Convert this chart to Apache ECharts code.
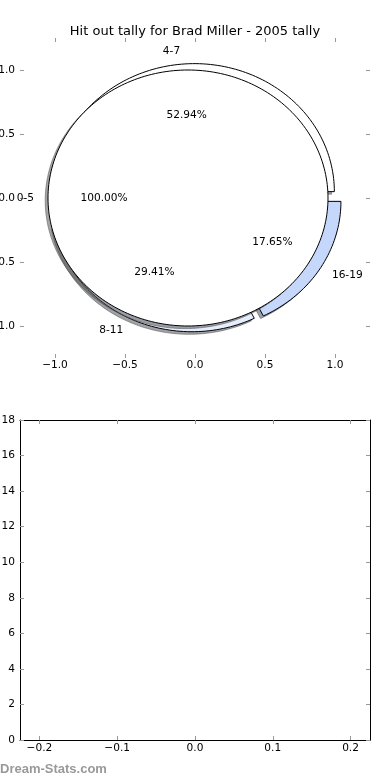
<!DOCTYPE html>
<html>
<head>
<meta charset="utf-8">
<script src="https://cdn.jsdelivr.net/npm/echarts@6/dist/echarts.min.js"></script>
<style>
html,body{margin:0;padding:0;background:#fff;}
#chart{width:390px;height:780px;}
</style>
</head>
<body>
<div id="chart"></div>
<script>
// ---- data ----
const chartTitle = 'Hit out tally for Brad Miller - 2005 tally';
const outerPieCategories = ['0-5'];
const outerPieValues = [1];
const innerPieCategories = ['4-7', '8-11', '16-19'];
const innerPieValues = [9, 5, 3];
const pieTickValues = [-1, -0.5, 0, 0.5, 1];
const pieTickLabels = ['\u22121.0', '\u22120.5', '0.0', '0.5', '1.0'];
const barXTickValues = [-0.2, -0.1, 0, 0.1, 0.2];
const barXTickLabels = ['\u22120.2', '\u22120.1', '0.0', '0.1', '0.2'];
const barYTickValues = [0, 2, 4, 6, 8, 10, 12, 14, 16, 18];
const barYTickLabels = ['0', '2', '4', '6', '8', '10', '12', '14', '16', '18'];
const watermark = 'Dream-Stats.com';

// ---- style ----
const outerPieColors = ['#ffffff'];
const innerPieColors = ['#ffffff', '#e6edfd', '#c5d8fb'];
const EXPLODE = 0.05;
const SHADOW_DX = -0.02, SHADOW_DY = -0.02;
const FONT = 'DejaVu Sans';
const FS = 10.6;
const TICK_COLOR = '#999';

function buildSlices(cats, vals, colors) {
  const total = vals.reduce((a, b) => a + b, 0);
  let t = 0;
  return cats.map((name, i) => {
    const t1 = t;
    t += vals[i] / total * 360;
    const t2 = t;
    const mid = (t1 + t2) / 2 * Math.PI / 180;
    return {
      name, value: vals[i], pct: (vals[i] / total * 100).toFixed(2) + '%',
      t1, t2, mid, color: colors[i],
      cx: EXPLODE * Math.cos(mid), cy: EXPLODE * Math.sin(mid)
    };
  });
}
const innerSlices = buildSlices(innerPieCategories, innerPieValues, innerPieColors);
const outerSlices = buildSlices(outerPieCategories, outerPieValues, outerPieColors);
const allSlices = innerSlices.concat(outerSlices);

function wedgePoints(s, dx, dy) {
  const cx = s.cx + dx, cy = s.cy + dy;
  const full = (s.t2 - s.t1) >= 359.999;
  const n = Math.max(8, Math.ceil((s.t2 - s.t1) / 1.5));
  const pts = [];
  if (!full) pts.push([cx, cy]);
  for (let k = 0; k <= n; k++) {
    const a = (s.t1 + (s.t2 - s.t1) * k / n) * Math.PI / 180;
    pts.push([cx + Math.cos(a), cy + Math.sin(a)]);
  }
  return pts;
}
function shadowColor(hex) {
  const r = parseInt(hex.slice(1, 3), 16), g = parseInt(hex.slice(3, 5), 16), b = parseInt(hex.slice(5, 7), 16);
  return 'rgba(' + Math.round(r * 0.3) + ',' + Math.round(g * 0.3) + ',' + Math.round(b * 0.3) + ',0.5)';
}
function wedgeRenderer(slices) {
  return function (params, api) {
    const s = slices[params.dataIndex];
    const pts = wedgePoints(s, 0, 0).map(p => api.coord(p));
    const sh = wedgePoints(s, SHADOW_DX, SHADOW_DY).map(p => api.coord(p));
    const sc = shadowColor(s.color);
    return {
      type: 'group',
      children: [
        { type: 'polygon', z2: params.dataIndex * 2, shape: { points: sh }, style: { fill: sc, stroke: sc, lineWidth: 1 } },
        { type: 'polygon', z2: params.dataIndex * 2 + 1, shape: { points: pts }, style: { fill: s.color, stroke: '#000', lineWidth: 1 } }
      ]
    };
  };
}
function labelRenderer(params, api) {
  const s = allSlices[params.dataIndex];
  const c = Math.cos(s.mid), sn = Math.sin(s.mid);
  const lx = s.cx + 1.1 * c, ly = s.cy + 1.1 * sn;
  const px = s.cx + 0.6 * c, py = s.cy + 0.6 * sn;
  const lp = api.coord([lx, ly]);
  const pp = api.coord([px, py]);
  return {
    type: 'group',
    children: [
      { type: 'text', x: lp[0], y: lp[1], style: { text: s.name, fill: '#000', fontSize: FS, fontFamily: FONT, align: lx > 0 ? 'left' : 'right', verticalAlign: 'middle' } },
      { type: 'text', x: pp[0], y: pp[1], style: { text: s.pct, fill: '#000', fontSize: FS, fontFamily: FONT, align: 'center', verticalAlign: 'middle' } }
    ]
  };
}

function labelFormatter(values, labels) {
  return function (v) {
    for (let i = 0; i < values.length; i++) if (Math.abs(values[i] - v) < 1e-9) return labels[i];
    return '';
  };
}
function axis(gridIndex, position, min, max, values, labels, showLine, showLabel, margin) {
  return {
    type: 'value', gridIndex, position, min, max,
    axisLine: { show: showLine, onZero: false, lineStyle: { color: '#000', width: 1 } },
    axisTick: { show: true, inside: true, length: 4, customValues: values, lineStyle: { color: TICK_COLOR, width: 1 } },
    axisLabel: { show: showLabel, customValues: values, formatter: labelFormatter(values, labels), color: '#000', fontSize: FS, fontFamily: FONT, margin: margin, hideOverlap: false },
    splitLine: { show: false }
  };
}

const chart = echarts.init(document.getElementById('chart'), null, { renderer: 'canvas' });
chart.setOption({
  animation: false,
  backgroundColor: '#fff',
  title: { text: chartTitle, left: 'center', top: 20, textStyle: { fontSize: 13, fontWeight: 'normal', fontFamily: FONT, color: '#000' } },
  grid: [
    { left: 20, top: 38, width: 350, height: 320, containLabel: false, outerBoundsMode: 'none' },
    { left: 20, top: 420, width: 350, height: 320, containLabel: false, outerBoundsMode: 'none' }
  ],
  xAxis: [
    axis(0, 'bottom', -1.25, 1.25, pieTickValues, pieTickLabels, false, true, 2),
    axis(0, 'top', -1.25, 1.25, pieTickValues, pieTickLabels, false, false, 2),
    axis(1, 'bottom', -0.225, 0.225, barXTickValues, barXTickLabels, true, true, 3),
    axis(1, 'top', -0.225, 0.225, barXTickValues, barXTickLabels, true, false, 3)
  ],
  yAxis: [
    axis(0, 'left', -1.25, 1.25, pieTickValues, pieTickLabels, false, true, 5),
    axis(0, 'right', -1.25, 1.25, pieTickValues, pieTickLabels, false, false, 5),
    axis(1, 'left', 0, 18, barYTickValues, barYTickLabels, true, true, 5),
    axis(1, 'right', 0, 18, barYTickValues, barYTickLabels, true, false, 5)
  ],
  graphic: [
    { type: 'text', left: 0, top: 763, style: { text: watermark, fontSize: 13, fontFamily: 'Liberation Sans', fontWeight: 'bold', fill: '#999' } }
  ],
  series: [
    { type: 'custom', name: 'inner', xAxisIndex: 0, yAxisIndex: 0, z: 2, renderItem: wedgeRenderer(innerSlices), data: innerSlices.map(s => [s.cx, s.cy]) },
    { type: 'custom', name: 'outer', xAxisIndex: 0, yAxisIndex: 0, z: 3, renderItem: wedgeRenderer(outerSlices), data: outerSlices.map(s => [s.cx, s.cy]) },
    { type: 'custom', name: 'labels', xAxisIndex: 0, yAxisIndex: 0, z: 5, renderItem: labelRenderer, data: allSlices.map(s => [s.cx, s.cy]) },
    { type: 'bar', name: 'tally', xAxisIndex: 2, yAxisIndex: 2, data: [] }
  ]
});
</script>
</body>
</html>
